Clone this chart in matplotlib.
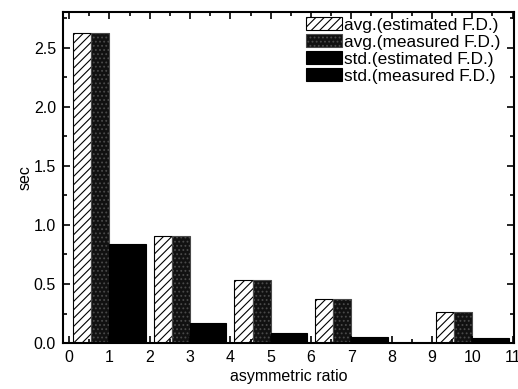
import matplotlib
matplotlib.use('Agg')
import matplotlib.pyplot as plt
import numpy as np
from matplotlib.ticker import MultipleLocator

plt.rcParams['font.family'] = ['Liberation Sans', 'DejaVu Sans']
plt.rcParams['hatch.linewidth'] = 0.8

# Data
ratio = [1, 3, 5, 7, 10]
avg_est = [2.62, 0.91, 0.53, 0.37, 0.26]
avg_meas = [2.62, 0.91, 0.53, 0.37, 0.26]
std_est = [0.84, 0.17, 0.085, 0.05, 0.04]
std_meas = [0.84, 0.17, 0.085, 0.05, 0.04]
labels = ['avg.(estimated F.D.)', 'avg.(measured F.D.)',
          'std.(estimated F.D.)', 'std.(measured F.D.)']

fig = plt.figure(figsize=(5.18, 3.89), dpi=100)
ax = fig.add_axes([0.1216, 0.118, 0.8704, 0.851])

x = np.array(ratio, dtype=float)
w = 0.45
ax.bar(x - 2 * w, avg_est, w, align='edge', facecolor='white',
       edgecolor='black', hatch='////', linewidth=0.8, label=labels[0])
ax.bar(x - w, avg_meas, w, align='edge', facecolor='#111111',
       edgecolor='#4a4a4a', hatch='....', linewidth=0.8, label=labels[1])
ax.bar(x, std_est, w, align='edge', facecolor='black',
       edgecolor='black', linewidth=0.8, label=labels[2])
ax.bar(x + w, std_meas, w, align='edge', facecolor='black',
       edgecolor='black', linewidth=0.8, label=labels[3])

ax.set_xlim(-0.15, 11.03)
ax.set_ylim(0, 2.8)
ax.xaxis.set_major_locator(MultipleLocator(1))
ax.xaxis.set_minor_locator(MultipleLocator(0.5))
ax.yaxis.set_major_locator(MultipleLocator(0.5))
ax.yaxis.set_minor_locator(MultipleLocator(0.25))
ax.yaxis.set_major_formatter(matplotlib.ticker.FormatStrFormatter('%.1f'))
ax.tick_params(which='both', direction='in', top=True, right=True,
               labelsize=11.5, width=1.2)
ax.tick_params(which='major', length=5, pad=5)
ax.tick_params(which='minor', length=3)
for s in ax.spines.values():
    s.set_linewidth(1.5)

ax.set_xlabel('asymmetric ratio', fontsize=11.5, labelpad=3)
ax.set_ylabel('sec', fontsize=11.5, labelpad=1)

ax.legend(loc='upper right', bbox_to_anchor=(0.985, 1.005), frameon=False,
          fontsize=12.4, handlelength=2.1, handleheight=0.75,
          handletextpad=0.1, labelspacing=0.1, borderaxespad=0.0)

plt.savefig('out.png', dpi=100)
